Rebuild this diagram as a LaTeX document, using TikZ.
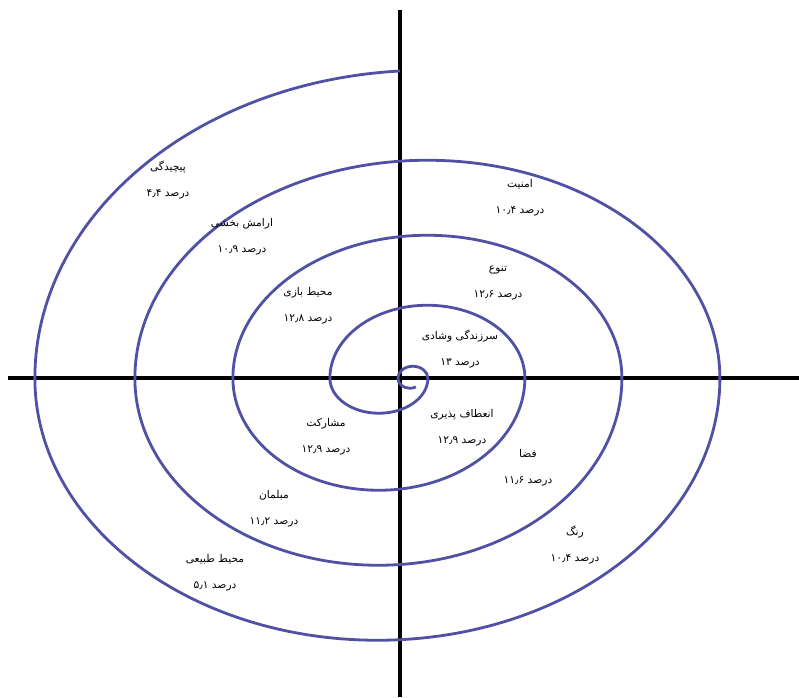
\documentclass[tikz,border=0pt]{standalone}
\usepackage{fontspec}
\TeXXeTstate=1
\newfontfamily\arabicfont[Script=Arabic]{DejaVu Sans}
\definecolor{spiralblue}{RGB}{80,80,165}
\newcommand{\share}[2]{\beginR #1\endR\\\beginR درصد \beginL#2\endL\endR}

\begin{document}
\begin{tikzpicture}[x=0.75pt,y=0.75pt,
    spiral/.style={draw=spiralblue,line width=2.1pt},
    axis/.style={draw=black,line width=2.4pt},
    lbl/.style={font=\arabicfont\fontsize{8}{19.5}\selectfont,align=center,inner sep=0pt}]
  \useasboundingbox (0,0) rectangle (799,697);
  % The two axes.
  \coordinate (west) at (8,319);
  \coordinate (east) at (799,319);
  \coordinate (north) at (400,687);
  \coordinate (south) at (400,0);
  \draw[axis] (west) -- (east);
  \draw[axis] (north) -- (south);
  % Spiral of half ellipses, from the open outer end inwards.
  \draw[spiral] (400,626)
    arc[start angle=94,end angle=180,x radius=392.5,y radius=308]
    arc[start angle=180,end angle=360,x radius=342.5,y radius=262]
    arc[start angle=0,end angle=180,x radius=292.5,y radius=218]
    arc[start angle=180,end angle=360,x radius=243.5,y radius=187]
    arc[start angle=0,end angle=180,x radius=194.5,y radius=143]
    arc[start angle=180,end angle=360,x radius=146,y radius=112]
    arc[start angle=0,end angle=180,x radius=97.5,y radius=73]
    arc[start angle=180,end angle=360,x radius=49,y radius=35]
    arc[start angle=0,end angle=180,x radius=15,y radius=12]
    arc[start angle=180,end angle=300,x radius=12,y radius=10];
  % Labels, upper half.
  \node[lbl] (complexity) at (168,517) {\share{پیچیدگی}{۴٫۴}};
  \node[lbl] (calm) at (242,460) {\share{ارامش بخشی}{۱۰٫۹}};
  \node[lbl] (playarea) at (308,391) {\share{محیط بازی}{۱۲٫۸}};
  \node[lbl] (vitality) at (460,348) {\share{سرزندگی وشادی}{۱۳}};
  \node[lbl] (safety) at (520,499) {\share{امنیت}{۱۰٫۴}};
  \node[lbl] (variety) at (498,414) {\share{تنوع}{۱۲٫۶}};
  % Labels, lower half.
  \node[lbl] (flexibility) at (462,269) {\share{انعطاف پذیری}{۱۲٫۹}};
  \node[lbl] (participation) at (326,260) {\share{مشارکت}{۱۲٫۹}};
  \node[lbl] (space) at (528,229) {\share{فضا}{۱۱٫۶}};
  \node[lbl] (furniture) at (274,188) {\share{مبلمان}{۱۱٫۲}};
  \node[lbl] (colour) at (575,152) {\share{رنگ}{۱۰٫۴}};
  \node[lbl] (nature) at (215,124) {\share{محیط طبیعی}{۵٫۱}};
\end{tikzpicture}
\end{document}
